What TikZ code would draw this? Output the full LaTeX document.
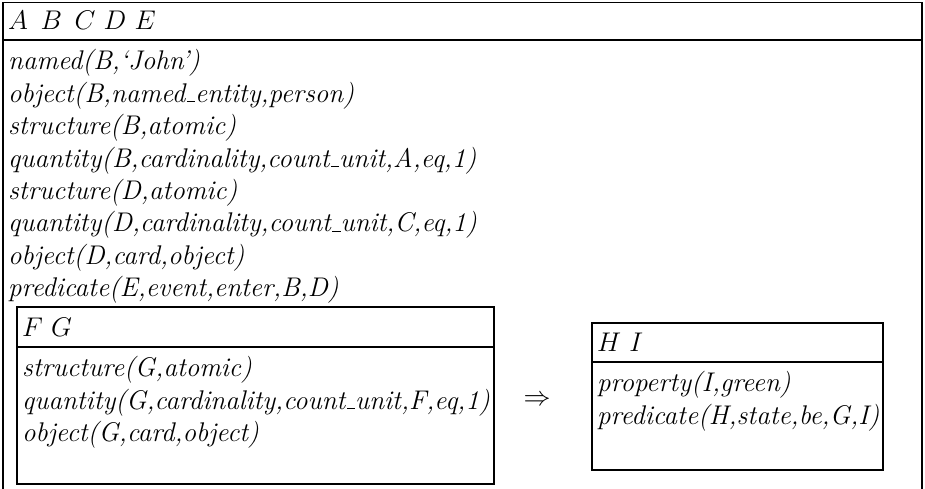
\documentclass[tikz,border=0pt]{standalone}
\usepackage{fix-cm}
\usepackage{amsmath, amssymb}
\usepackage{tikz}
\usetikzlibrary{positioning}

\newcommand{\usc}{\leavevmode\kern.06em\vbox{\hrule width .3em height 1.3pt}}

\begin{document}
\begin{tikzpicture}[x=1pt, y=-1pt,
    every node/.style={font=\fontsize{27}{32.4}\selectfont},
    refs/.style={anchor=base west, inner sep=0pt},
    conds/.style={anchor=north west, inner sep=0pt, align=left, font=\fontsize{27}{32.4}\selectfont\itshape}]
  \useasboundingbox (0,0) rectangle (925,489);
  % outer box, open at the bottom
  \draw[line width=1.7pt] (3,489) -- (3,2.5) -- (922,2.5) -- (922,489);
  \draw[line width=1.9pt] (3,40) -- (922,40);
  \node[refs] (outerrefs) at (8,30) {$A\ \,B\ \,C\ D\ E$};
  \node[conds] (outerconds) at (8,49.5)
       {named(B,`John')\\
        object(B,named\usc entity,person)\\
        structure(B,atomic)\\
        quantity(B,cardinality,count\usc unit,A,eq,1)\\
        structure(D,atomic)\\
        quantity(D,cardinality,count\usc unit,C,eq,1)\\
        object(D,card,object)\\
        predicate(E,event,enter,B,D)};
  % antecedent box
  \draw[line width=2.6pt] (17,307) rectangle (494,484);
  \draw[line width=2pt] (17,347) -- (494,347);
  \node[refs] (leftrefs) at (22,336) {$F\ G$};
  \node[conds] (leftconds) at (22,356.5)
       {structure(G,atomic)\\
        quantity(G,cardinality,count\usc unit,F,eq,1)\\
        object(G,card,object)};
  \node (imp) at (537,401) {$\Rightarrow$};
  % consequent box
  \draw[line width=2.6pt] (592,323) rectangle (883,470);
  \draw[line width=2pt] (592,362) -- (883,362);
  \node[refs] (rightrefs) at (597,351) {$H\ I$};
  \node[conds] (rightconds) at (597,371.5)
       {property(I,green)\\
        predicate(H,state,be,G,I)};
\end{tikzpicture}
\end{document}
